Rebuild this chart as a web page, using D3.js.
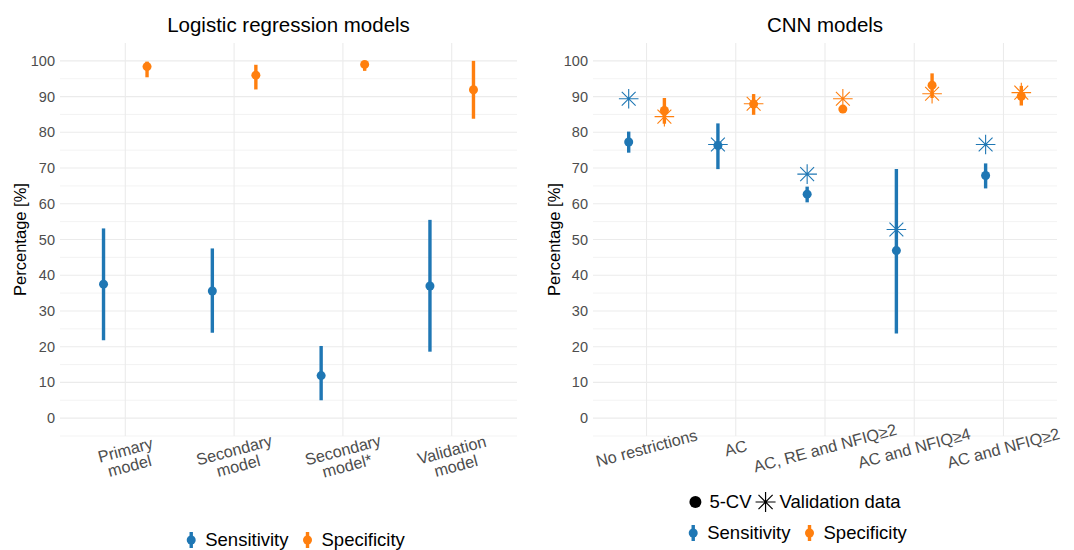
<!DOCTYPE html>
<html>
<head>
<meta charset="utf-8">
<script src="https://cdn.jsdelivr.net/npm/d3@7"></script>
<style>
  body { margin: 0; background: #fff; }
  svg { font-family: "Liberation Sans", Arial, sans-serif; }
  .grid line { stroke: #ebebeb; }
  .tick-y { fill: #4d4d4d; font-size: 14.5px; }
  .tick-x { fill: #4d4d4d; font-size: 16.3px; }
</style>
</head>
<body>
<script>
var width = 1074
var height = 550

var blue = "#1f77b4"
var orange = "#ff7f0e"

// logistic regression models
var lrModels = ["Primary\nmodel", "Secondary\nmodel", "Secondary\nmodel*", "Validation\nmodel"]
var lrSensEst = [37.5, 35.6, 11.9, 37.0]
var lrSensLo = [21.8, 23.9, 5.0, 18.6]
var lrSensHi = [53.1, 47.5, 20.2, 55.5]
var lrSpecEst = [98.4, 96.0, 99.0, 91.9]
var lrSpecLo = [95.4, 92.0, 97.2, 83.8]
var lrSpecHi = [99.8, 98.9, 99.7, 100]

// CNN models
var cnnModels = ["No restrictions", "AC", "AC, RE and NFIQ≥2", "AC and NFIQ≥4", "AC and NFIQ≥2"]
var cnnSensEst = [77.3, 76.3, 62.7, 46.9, 67.9]
var cnnSensLo = [74.3, 69.7, 60.4, 23.7, 64.3]
var cnnSensHi = [80.2, 82.5, 64.8, 69.7, 71.3]
var cnnSensVal = [89.4, 76.6, 68.3, 52.8, 76.6]
var cnnSpecEst = [86.1, 87.9, 86.5, 93.2, 90.1]
var cnnSpecLo = [82.4, 84.9, 85.8, 89.6, 87.5]
var cnnSpecHi = [89.6, 90.7, 87.2, 96.5, 93.0]
var cnnSpecVal = [84.4, 88.0, 89.4, 90.8, 91.1]

var yTicks = [0, 10, 20, 30, 40, 50, 60, 70, 80, 90, 100]
var yMinor = [-5, 5, 15, 25, 35, 45, 55, 65, 75, 85, 95]

var svg = d3.select("body")
    .append("svg")
    .attr("width", width)
    .attr("height", height)

var y = d3.scaleLinear().domain([-5, 105]).range([436, 43])

function starPath(r) {
    var d = r * Math.SQRT1_2
    return "M" + (-r) + ",0H" + r + "M0," + (-r) + "V" + r +
        "M" + (-d) + "," + (-d) + "L" + d + "," + d +
        "M" + (-d) + "," + d + "L" + d + "," + (-d)
}

function drawPanel(opts) {
    var x = d3.scalePoint().domain(opts.cats).range([opts.x0, opts.x1]).padding(0.6)
    var off = x.step() * 0.2
    var g = svg.append("g")

    var grid = g.append("g").attr("class", "grid")
    grid.selectAll(".minor").data(yMinor).enter().append("line")
        .attr("x1", opts.x0).attr("x2", opts.x1)
        .attr("y1", (d) => y(d)).attr("y2", (d) => y(d))
        .attr("stroke-width", 0.6)
    grid.selectAll(".major").data(yTicks).enter().append("line")
        .attr("x1", opts.x0).attr("x2", opts.x1)
        .attr("y1", (d) => y(d)).attr("y2", (d) => y(d))
        .attr("stroke-width", 1.1)
    grid.selectAll(".vmajor").data(opts.cats).enter().append("line")
        .attr("x1", (d) => x(d)).attr("x2", (d) => x(d))
        .attr("y1", y.range()[0]).attr("y2", y.range()[1])
        .attr("stroke-width", 1.1)

    // y ticks
    g.selectAll(".tick-y").data(yTicks).enter().append("text")
        .attr("class", "tick-y")
        .attr("x", opts.x0 - 5)
        .attr("y", (d) => y(d))
        .attr("dy", "0.35em")
        .attr("text-anchor", "end")
        .text((d) => d)

    // x ticks, rotated 15 degrees
    var xt = g.selectAll(".tick-x").data(opts.cats).enter().append("text")
        .attr("class", "tick-x")
        .attr("text-anchor", "middle")
        .attr("transform", (d) => "translate(" + x(d) + "," + opts.labelY + ") rotate(-15)")
    xt.each(function (d) {
        var lines = d.split("\n")
        var t = d3.select(this)
        lines.forEach(function (l, i) {
            t.append("tspan").attr("x", 0).attr("dy", i === 0 ? "0.35em" : "1.0em").text(l)
        })
    })

    // titles
    g.append("text")
        .attr("x", (opts.x0 + opts.x1) / 2)
        .attr("y", 32)
        .attr("text-anchor", "middle")
        .attr("font-size", 20.5)
        .attr("fill", "#000")
        .text(opts.title)

    g.append("text")
        .attr("transform", "translate(" + opts.yTitleX + "," + (y(50)) + ") rotate(-90)")
        .attr("text-anchor", "middle")
        .attr("dy", "0.35em")
        .attr("font-size", 16.5)
        .attr("fill", "#000")
        .text("Percentage [%]")

    // pointranges
    var series = [
        { est: opts.sensEst, lo: opts.sensLo, hi: opts.sensHi, val: opts.sensVal, color: blue, dx: -off },
        { est: opts.specEst, lo: opts.specLo, hi: opts.specHi, val: opts.specVal, color: orange, dx: off }
    ]
    series.forEach(function (s) {
        var pts = opts.cats.map((c, i) => ({ c: c, est: s.est[i], lo: s.lo[i], hi: s.hi[i], val: s.val ? s.val[i] : null }))
        var sg = g.append("g")
        sg.selectAll("line").data(pts).enter().append("line")
            .attr("x1", (d) => x(d.c) + s.dx).attr("x2", (d) => x(d.c) + s.dx)
            .attr("y1", (d) => y(d.lo)).attr("y2", (d) => y(d.hi))
            .attr("stroke", s.color).attr("stroke-width", 3.4)
        sg.selectAll("circle").data(pts).enter().append("circle")
            .attr("cx", (d) => x(d.c) + s.dx).attr("cy", (d) => y(d.est))
            .attr("r", 4.5).attr("fill", s.color)
        if (s.val) {
            sg.selectAll("path").data(pts).enter().append("path")
                .attr("transform", (d) => "translate(" + (x(d.c) + s.dx) + "," + y(d.val) + ")")
                .attr("d", starPath(9.8))
                .attr("fill", "none").attr("stroke", s.color).attr("stroke-width", 1.1)
        }
    })
}

drawPanel({
    cats: lrModels, x0: 60, x1: 517, labelY: 450, yTitleX: 20,
    title: "Logistic regression models",
    sensEst: lrSensEst, sensLo: lrSensLo, sensHi: lrSensHi,
    specEst: lrSpecEst, specLo: lrSpecLo, specHi: lrSpecHi
})

drawPanel({
    cats: cnnModels, x0: 593, x1: 1057, labelY: 448, yTitleX: 554,
    title: "CNN models",
    sensEst: cnnSensEst, sensLo: cnnSensLo, sensHi: cnnSensHi, sensVal: cnnSensVal,
    specEst: cnnSpecEst, specLo: cnnSpecLo, specHi: cnnSpecHi, specVal: cnnSpecVal
})

// legends
function legendRow(cx, cy, items) {
    var g = svg.append("g")
    var xpos = 0
    items.forEach(function (it) {
        var k = g.append("g").attr("transform", "translate(" + (xpos + 8) + "," + cy + ")")
        if (it.type === "range") {
            k.append("line").attr("y1", -8).attr("y2", 8).attr("stroke", it.color).attr("stroke-width", 3.4)
            k.append("circle").attr("r", 4.5).attr("fill", it.color)
        } else if (it.type === "dot") {
            k.append("circle").attr("r", 6).attr("fill", "#000")
        } else {
            k.append("path").attr("d", starPath(10)).attr("fill", "none").attr("stroke", "#000").attr("stroke-width", 1.2)
        }
        var t = g.append("text")
            .attr("x", xpos + 22).attr("y", cy).attr("dy", "0.35em")
            .attr("font-size", 18.5).attr("fill", "#000")
            .text(it.label)
        xpos += 22 + t.node().getComputedTextLength() + it.gap
    })
    var w = xpos - items[items.length - 1].gap
    g.attr("transform", "translate(" + (cx - w / 2) + ",0)")
}

legendRow(294, 540, [
    { type: "range", color: blue, label: "Sensitivity", gap: 11 },
    { type: "range", color: orange, label: "Specificity", gap: 0 }
])

legendRow(794, 502, [
    { type: "dot", label: "5-CV", gap: 6 },
    { type: "star", label: "Validation data", gap: 0 }
])

legendRow(796, 533, [
    { type: "range", color: blue, label: "Sensitivity", gap: 11 },
    { type: "range", color: orange, label: "Specificity", gap: 0 }
])
</script>
</body>
</html>
